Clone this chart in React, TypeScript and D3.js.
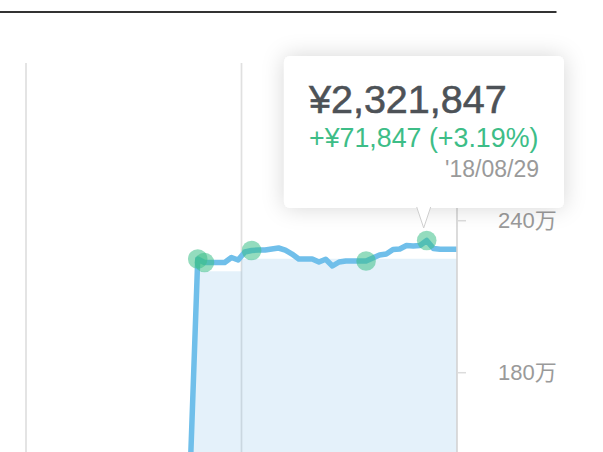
import React from 'react';
import * as d3 from 'd3';

// asset value per day (yen)
const navDates = [
  '2018-07-23', '2018-07-26', '2018-07-27', '2018-07-28', '2018-07-29', '2018-07-30',
  '2018-07-31', '2018-08-01', '2018-08-02', '2018-08-03', '2018-08-04', '2018-08-05',
  '2018-08-06', '2018-08-07', '2018-08-08', '2018-08-09', '2018-08-10', '2018-08-11',
  '2018-08-12', '2018-08-13', '2018-08-14', '2018-08-15', '2018-08-16', '2018-08-17',
  '2018-08-18', '2018-08-19', '2018-08-20', '2018-08-21', '2018-08-22', '2018-08-23',
  '2018-08-24', '2018-08-25', '2018-08-26', '2018-08-27', '2018-08-28', '2018-08-29',
  '2018-08-30', '2018-08-31', '2018-09-01', '2018-09-02', '2018-09-03',
];
const navValues = [
  0, 2248800, 2235000, 2235000, 2235000, 2235000,
  2254700, 2244900, 2276400, 2282400, 2284300, 2284300,
  2288300, 2292200, 2284300, 2268500, 2248800, 2248800,
  2248800, 2237000, 2247600, 2221200, 2237000, 2240900,
  2240900, 2240900, 2240900, 2252700, 2264600, 2268500,
  2286300, 2288300, 2302100, 2300100, 2302100, 2321847,
  2290200, 2287100, 2287100, 2287100, 2287100,
];

// invested principal (yen)
const principalDates = ['2018-07-23 00:00', '2018-07-26 00:00', '2018-08-01 12:00', '2018-08-01 12:00', '2018-09-03 00:00'];
const principalValues = [0, 2200000, 2200000, 2250000, 2250000];

// transaction markers
const markerDates = ['2018-07-26', '2018-07-27', '2018-08-03', '2018-08-20', '2018-08-29'];

const gridDates = ['2018-06-30 12:00', '2018-08-01 12:00', '2018-09-02 12:00'];
const yTicks = [1800000, 2400000, 3000000];

const tooltipDate = '2018-08-29';
const tooltipPrincipal = 2250000;

const parseDay = d3.timeParse('%Y-%m-%d');
const parseTime = d3.timeParse('%Y-%m-%d %H:%M');

const FONT = "'Liberation Sans', Arial, 'Noto Sans CJK JP', sans-serif";

export default function App() {
  const width = 603;
  const height = 452;
  const plotLeft = 26;
  const plotRight = 457;
  const plotTop = 63;

  const x = d3.scaleTime()
    .domain([parseTime(gridDates[0])!, parseTime(gridDates[2])!])
    .range([plotLeft, plotRight]);

  const y = d3.scaleLinear()
    .domain([1800000, 2400000])
    .range([372.7, 220.7]);

  const nav = navDates.map((d, i) => ({ date: parseDay(d)!, value: navValues[i] }));
  const principal = principalDates.map((d, i) => ({ date: parseTime(d)!, value: principalValues[i] }));

  const line = d3.line<{ date: Date; value: number }>()
    .x(d => x(d.date))
    .y(d => y(d.value));

  const area = d3.area<{ date: Date; value: number }>()
    .x(d => x(d.date))
    .y0(y(0))
    .y1(d => y(d.value));

  const markers = markerDates.map(m => nav.find(n => +n.date === +parseDay(m)!)!);

  // tooltip
  const tip = nav.find(n => +n.date === +parseDay(tooltipDate)!)!;
  const tx = x(tip.date);
  const ty = y(tip.value);
  const gain = tip.value - tooltipPrincipal;
  const pct = (gain / tooltipPrincipal) * 100;
  const boxX = tx - 142.7;
  const boxY = ty - 184.5;
  const boxW = 280;
  const boxH = 152;
  const boxBottom = boxY + boxH;
  const apexX = tx - 3;
  const apexY = ty - 12.5;

  return (
    <div style={{ position: 'fixed', left: 0, top: 0 }}>
      <svg width={width} height={height} style={{ display: 'block', fontFamily: FONT }}>
        <defs>
          <clipPath id="plot-clip">
            <rect x={plotLeft} y={plotTop} width={plotRight - plotLeft} height={height - plotTop} />
          </clipPath>
          <filter id="tip-shadow" x="-30%" y="-40%" width="160%" height="180%">
            <feDropShadow dx="0" dy="0" stdDeviation="11" floodColor="#000" floodOpacity="0.16" />
          </filter>
        </defs>

        <rect x={0} y={0} width={width} height={height} fill="#fff" />

        {/* header rule */}
        <line x1={0} x2={556.5} y1={12} y2={12} stroke="#333" strokeWidth={2} />

        {/* vertical grid */}
        {gridDates.slice(0, 2).map(g => (
          <line key={g} x1={x(parseTime(g)!)} x2={x(parseTime(g)!)} y1={plotTop} y2={height}
            stroke="#e0e0e0" strokeWidth={1.7} />
        ))}

        <g clipPath="url(#plot-clip)">
          <path d={area(principal)!} fill="#6cb4e4" fillOpacity={0.18} />
          <path d={line(nav)!} fill="none" stroke="#70bfea" strokeWidth={5.5}
            strokeLinejoin="round" strokeLinecap="round" />
        </g>

        {/* right axis */}
        <line x1={x(parseTime(gridDates[2])!)} x2={x(parseTime(gridDates[2])!)} y1={plotTop} y2={height}
          stroke="#d3d3d3" strokeWidth={1.6} />
        {yTicks.map(t => (
          <g key={t}>
            <line x1={plotRight} x2={plotRight + 9} y1={y(t)} y2={y(t)} stroke="#dcdcdc" strokeWidth={1.5} />
            <text x={498} y={y(t) + 7} fontSize={22} fill="#9a9a9a">{`${t / 10000}万`}</text>
          </g>
        ))}

        {markers.map((m, i) => (
          <circle key={i} cx={x(m.date)} cy={y(m.value)} r={9.8} fill="#3cbf88" fillOpacity={0.55} />
        ))}

        {/* tooltip */}
        <g>
          <rect x={boxX} y={boxY} width={boxW} height={boxH} rx={6} fill="#fff" filter="url(#tip-shadow)" />
          <path d={`M${apexX - 7},${boxBottom - 1}L${apexX},${apexY}L${apexX + 7},${boxBottom - 1}`}
            fill="#fff" stroke="#cfcfcf" strokeWidth={1} />
          <text x={boxX + 25} y={boxY + 56.7} fontSize={39.5} fill="#4d5257"
            stroke="#4d5257" strokeWidth={0.6}>
            {`¥${d3.format(',')(tip.value)}`}
          </text>
          <text x={boxX + 25} y={boxY + 90.7} fontSize={26.8} fill="#3dbd87">
            {`+¥${d3.format(',')(gain)} (+${pct.toFixed(2)}%)`}
          </text>
          <text x={boxX + 255} y={boxY + 120.7} fontSize={23} fill="#9a9a9a" textAnchor="end">
            {d3.timeFormat("'%y/%m/%d")(tip.date)}
          </text>
        </g>
      </svg>
    </div>
  );
}
